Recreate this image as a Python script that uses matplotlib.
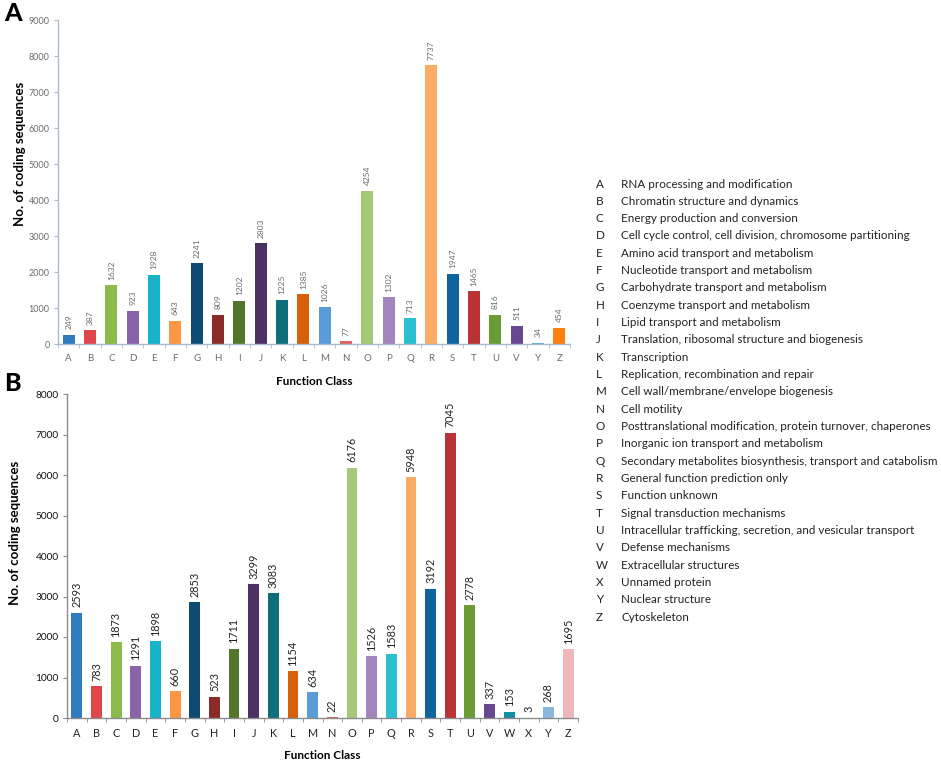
import matplotlib.pyplot as plt
import numpy as np

plt.rcParams['font.family'] = ['Lato', 'DejaVu Sans']

# Panel A data
classes_a = list("ABCDEFGHIJKLMNOPQRSTUVYZ")
counts_a = [249, 387, 1632, 923, 1928, 643, 2241, 809, 1202, 2803, 1225, 1385,
            1026, 77, 4254, 1302, 713, 7737, 1947, 1465, 816, 511, 34, 454]

# Panel B data
classes_b = list("ABCDEFGHIJKLMNOPQRSTUVWXYZ")
counts_b = [2593, 783, 1873, 1291, 1898, 660, 2853, 523, 1711, 3299, 3083, 1154,
            634, 22, 6176, 1526, 1583, 5948, 3192, 7045, 2778, 337, 153, 3, 268, 1695]

# Function class legend
legend_codes = list("ABCDEFGHIJKLMNOPQRSTUVWXYZ")
legend_names = [
    "RNA processing and modification",
    "Chromatin structure and dynamics",
    "Energy production and conversion",
    "Cell cycle control, cell division, chromosome partitioning",
    "Amino acid transport and metabolism",
    "Nucleotide transport and metabolism",
    "Carbohydrate transport and metabolism",
    "Coenzyme transport and metabolism",
    "Lipid transport and metabolism",
    "Translation, ribosomal structure and biogenesis",
    "Transcription",
    "Replication, recombination and repair",
    "Cell wall/membrane/envelope biogenesis",
    "Cell motility",
    "Posttranslational modification, protein turnover, chaperones",
    "Inorganic ion transport and metabolism",
    "Secondary metabolites biosynthesis, transport and catabolism",
    "General function prediction only",
    "Function unknown",
    "Signal transduction mechanisms",
    "Intracellular trafficking, secretion, and vesicular transport",
    "Defense mechanisms",
    "Extracellular structures",
    "Unnamed protein",
    "Nuclear structure",
    "Cytoskeleton",
]

# colours per class (Excel-like palette)
palette = {
    'A': '#2e7bbf', 'B': '#e0474c', 'C': '#8cbb4b', 'D': '#8a64ab', 'E': '#17b3c8',
    'F': '#fb9744', 'G': '#0f4a73', 'H': '#8c2a2a', 'I': '#53772a', 'J': '#4b3262',
    'K': '#0e6f7b', 'L': '#d9600a', 'M': '#5b9cd6', 'N': '#e06060', 'O': '#a5c979',
    'P': '#a285bd', 'Q': '#2cbfd2', 'R': '#fcab67', 'S': '#10649e', 'T': '#bb3236',
    'U': '#6b9b35', 'V': '#674890', 'W': '#138fa3', 'X': '#999999',
}
colors_a = [palette.get(c, '#000000') for c in classes_a]
colors_a[-2] = '#4ab0cc'
colors_a[-1] = '#ff7f0e'
colors_b = [palette.get(c, '#000000') for c in classes_b]
colors_b[-2] = '#8ab8e0'
colors_b[-1] = '#f0b7bb'

W, H = 941, 760
fig = plt.figure(figsize=(W / 100, H / 100), dpi=100)


def px_axes(left, top, right, bottom):
    return fig.add_axes([left / W, 1 - bottom / H, (right - left) / W, (bottom - top) / H])


def draw_panel(ax, classes, counts, colors, ymax, width, txt_color, spine_color,
               val_size, tick_size, ylab_x, ylab_y, ytick_color):
    x = np.arange(len(classes))
    ax.bar(x, counts, width=width, color=colors)
    for xi, v in zip(x, counts):
        ax.annotate(str(v), (xi, v), xytext=(0, 4), textcoords='offset points',
                    rotation=90, ha='center', va='bottom', fontsize=val_size,
                    color=txt_color)
    ax.set_xlim(-0.5, len(classes) - 0.5)
    ax.set_ylim(0, ymax)
    ax.set_yticks(np.arange(0, ymax + 1, 1000))
    ax.set_xticks(x)
    ax.set_xticklabels(classes)
    ax.set_xticks(np.arange(-0.5, len(classes)), minor=True)
    ax.tick_params(axis='x', which='major', length=0, pad=7, labelsize=tick_size,
                   labelcolor=txt_color)
    ax.tick_params(axis='x', which='minor', length=3, color=spine_color)
    ax.tick_params(axis='y', length=3, color=spine_color, labelsize=tick_size - 0.5,
                   labelcolor=ytick_color, pad=3)
    for s in ['top', 'right']:
        ax.spines[s].set_visible(False)
    for s in ['left', 'bottom']:
        ax.spines[s].set_color(spine_color)
        ax.spines[s].set_linewidth(1.0)
    ax.set_ylabel('No. of coding sequences', fontsize=9.5, fontweight='bold')
    ax.yaxis.set_label_coords(ylab_x, ylab_y)
    ax.set_xlabel('Function Class', fontsize=8.5, fontweight='bold')
    ax.xaxis.set_label_coords(0.5, -0.1)


ax_a = px_axes(58, 20, 570, 344)
draw_panel(ax_a, classes_a, counts_a, colors_a, 9000, 0.57, '#6b6b6b', '#a9bccf',
           6, 7, -0.062, 0.586, '#6b6b6b')

ax_b = px_axes(67, 394, 578, 718)
draw_panel(ax_b, classes_b, counts_b, colors_b, 8000, 0.55, '#222222', '#8c8c8c',
           7.8, 7.8, -0.09, 0.571, '#111111')

fig.text(4 / W, 1 - 2 / H, 'A', fontsize=18, fontweight='black', va='top', ha='left')
fig.text(4 / W, 1 - 372 / H, 'B', fontsize=18, fontweight='black', va='top', ha='left')

# legend of function classes
for i, (code, name) in enumerate(zip(legend_codes, legend_names)):
    y = 1 - (184 + i * 17.33) / H
    fig.text(596 / W, y, code, fontsize=8.4, va='center', ha='left', color='#222222')
    fig.text(621 / W, y, name, fontsize=8.4, va='center', ha='left', color='#222222')

fig.savefig('out.png', dpi=100)
